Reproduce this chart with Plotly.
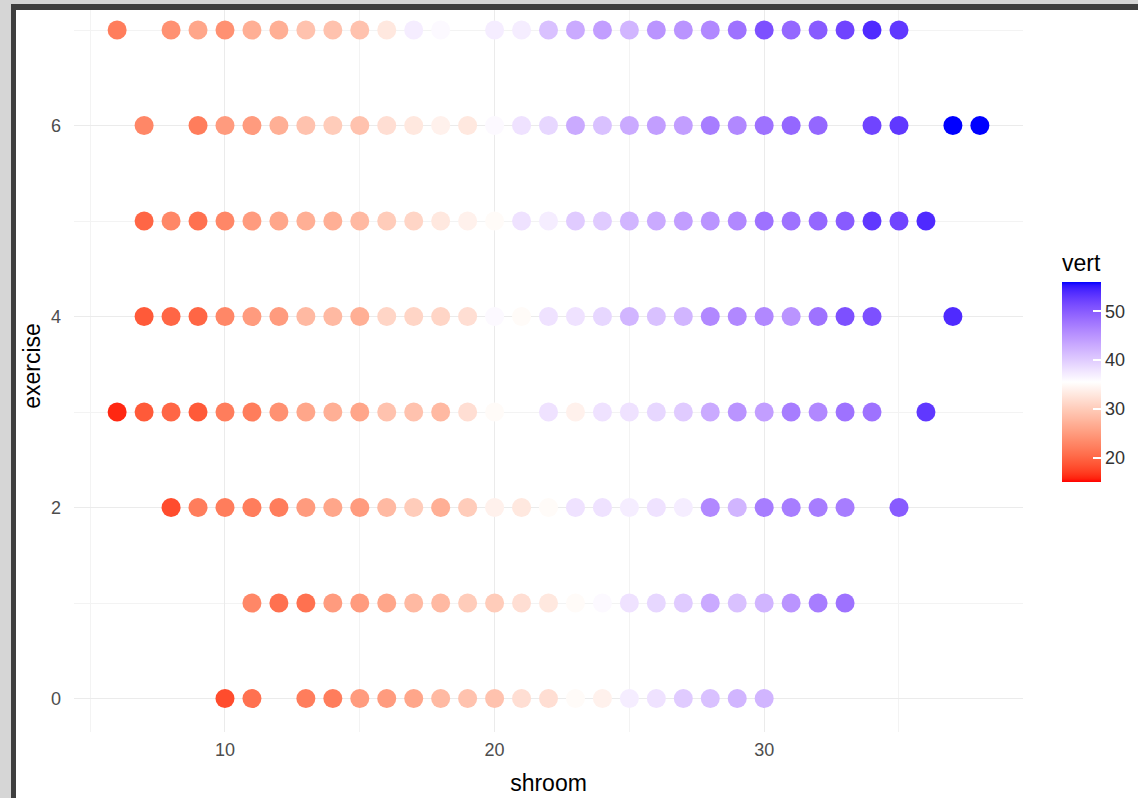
import plotly.graph_objects as go

# ---------------- data ----------------
shroom_e0 = [10, 11, 13, 14, 15, 16, 17, 18, 19, 20, 21, 22, 23, 24, 25, 26, 27, 28, 29, 30]
vert_e0 = [18, 21, 22, 22, 25, 25, 26, 28, 29, 29, 32, 32, 35, 34, 37, 38, 40, 41, 42, 42]

shroom_e1 = list(range(11, 34))
vert_e1 = [23, 21, 21, 25, 25, 26, 28, 28, 30, 30, 32, 33, 35, 36, 38, 39, 40, 43, 41, 42, 45, 47, 48]

shroom_e2 = list(range(8, 34)) + [35]
vert_e2 = [18, 22, 22, 22, 22, 25, 26, 25, 28, 30, 27, 30, 34, 33, 35, 38, 38, 37, 38, 37,
           46, 42, 47, 47, 47, 47, 50]

shroom_e3 = list(range(6, 21)) + list(range(22, 35)) + [36]
vert_e3 = [16, 19, 20, 19, 22, 22, 24, 26, 27, 26, 29, 29, 28, 32, 35,
           38, 34, 38, 38, 39, 40, 43, 45, 44, 47, 46, 48, 48, 53]

shroom_e4 = list(range(7, 35)) + [37]
vert_e4 = [19, 20, 20, 23, 25, 25, 28, 28, 27, 31, 31, 31, 32, 36, 35, 38, 38, 39, 42, 41,
           42, 46, 46, 46, 45, 48, 51, 51, 54]

shroom_e5 = list(range(7, 37))
vert_e5 = [20, 23, 21, 23, 25, 26, 27, 27, 28, 30, 31, 33, 34, 35, 38, 37, 40, 40, 42, 43,
           44, 45, 46, 48, 48, 49, 50, 53, 52, 54]

shroom_e6 = [7] + list(range(9, 33)) + [34, 35, 37, 38]
vert_e6 = [23, 22, 25, 25, 27, 29, 30, 29, 32, 33, 34, 33, 36, 38, 39, 43, 41, 43, 44, 44,
           47, 46, 48, 49, 49, 52, 53, 56, 56]

shroom_e7 = [6] + list(range(8, 19)) + list(range(20, 36))
vert_e7 = [22, 24, 26, 24, 27, 27, 29, 29, 29, 33, 37, 36, 37, 37, 41, 43, 44, 42, 45, 45,
           46, 48, 51, 49, 50, 52, 54, 53]

exercise_levels = [0, 1, 2, 3, 4, 5, 6, 7]
shroom_rows = [shroom_e0, shroom_e1, shroom_e2, shroom_e3, shroom_e4, shroom_e5, shroom_e6, shroom_e7]
vert_rows = [vert_e0, vert_e1, vert_e2, vert_e3, vert_e4, vert_e5, vert_e6, vert_e7]

x_ticks = [10, 20, 30]
y_ticks = [0, 2, 4, 6]
legend_ticks = [20, 30, 40, 50]
vert_min, vert_max, vert_mid = 15, 56, 35.5

# ---------------- colour scale: red - white - blue interpolated in Lab ----------------
def _lin(c):
    c = c / 255.0
    return c / 12.92 if c <= 0.04045 else ((c + 0.055) / 1.055) ** 2.4

def _gam(c):
    c = max(0.0, min(1.0, c))
    v = 12.92 * c if c <= 0.0031308 else 1.055 * c ** (1 / 2.4) - 0.055
    return int(round(max(0, min(1, v)) * 255))

WX, WY, WZ = 0.95047, 1.0, 1.08883

def rgb2lab(rgb):
    r, g, b = (_lin(v) for v in rgb)
    X = 0.4124 * r + 0.3576 * g + 0.1805 * b
    Y = 0.2126 * r + 0.7152 * g + 0.0722 * b
    Z = 0.0193 * r + 0.1192 * g + 0.9505 * b
    def f(t):
        return t ** (1 / 3) if t > 0.008856 else 7.787 * t + 16 / 116
    fx, fy, fz = f(X / WX), f(Y / WY), f(Z / WZ)
    return (116 * fy - 16, 500 * (fx - fy), 200 * (fy - fz))

def lab2rgb(lab):
    L, a, bb = lab
    fy = (L + 16) / 116
    fx = fy + a / 500
    fz = fy - bb / 200
    def finv(t):
        return t ** 3 if t ** 3 > 0.008856 else (t - 16 / 116) / 7.787
    X, Y, Z = WX * finv(fx), WY * finv(fy), WZ * finv(fz)
    r = 3.2406 * X - 1.5372 * Y - 0.4986 * Z
    g = -0.9689 * X + 1.8758 * Y + 0.0415 * Z
    b = 0.0557 * X - 0.2040 * Y + 1.0570 * Z
    return "rgb(%d,%d,%d)" % (_gam(r), _gam(g), _gam(b))

lab_low, lab_mid, lab_high = rgb2lab((255, 0, 0)), rgb2lab((255, 255, 255)), rgb2lab((0, 0, 255))
half = max(vert_mid - vert_min, vert_max - vert_mid)
colorscale = []
N = 60
for i in range(N + 1):
    t = i / N
    v = vert_min + t * (vert_max - vert_min)
    s = (v - vert_mid) / half
    if s < 0:
        a, b_, w = lab_mid, lab_low, -s
    else:
        a, b_, w = lab_mid, lab_high, s
    w = min(1.0, w)
    lab = tuple(a[k] + (b_[k] - a[k]) * w for k in range(3))
    colorscale.append([t, lab2rgb(lab)])

# ---------------- figure ----------------
xs, ys, cs = [], [], []
for lvl, sx, vv in zip(exercise_levels, shroom_rows, vert_rows):
    xs += sx
    ys += [lvl] * len(sx)
    cs += vv

W, H = 1138, 798
ML, MR, MT, MB = 74, 115, 0, 66
PW, PH = W - ML - MR, H - MT - MB

def px(x):
    return (x - ML) / PW

def py(y):
    return (H - MB - y) / PH

FONT = "Liberation Sans, Arial, Helvetica, sans-serif"
TICK_SIZE = 18
TITLE_SIZE = 23

fig = go.Figure()
fig.add_trace(go.Scatter(
    x=xs, y=ys, mode="markers",
    marker=dict(
        size=19, color=cs, colorscale=colorscale, cmin=vert_min, cmax=vert_max,
        line=dict(width=0),
        colorbar=dict(
            title=dict(text="vert", side="top", font=dict(size=TITLE_SIZE, color="#000000", family=FONT)),
            thickness=39, thicknessmode="pixels",
            len=231, lenmode="pixels",
            x=px(1062), xanchor="left", xpad=0,
            y=py(482), yanchor="bottom", ypad=0,
            tickvals=legend_ticks, ticks="inside", ticklen=8, tickwidth=1.5, tickcolor="white",
            tickfont=dict(size=TICK_SIZE, color="#333333", family=FONT),
            outlinewidth=0,
        ),
    ),
    showlegend=False, hoverinfo="x+y",
))

grid_major = "#EBEBEB"
grid_minor = "#F3F3F3"

fig.update_layout(
    width=W, height=H,
    margin=dict(l=ML, r=MR, t=MT, b=MB),
    paper_bgcolor="white", plot_bgcolor="white",
    font=dict(family=FONT),
    xaxis=dict(
        range=[4.4, 39.6], tickvals=x_ticks, showgrid=True, gridcolor=grid_major, gridwidth=1.4,
        zeroline=False, showline=False, ticks="",
        tickfont=dict(size=TICK_SIZE, color="#4D4D4D"), ticklabelstandoff=5,
        minor=dict(tickvals=[5, 15, 25, 35], showgrid=True, gridcolor=grid_minor, gridwidth=0.8),
        title=dict(text="shroom", font=dict(size=TITLE_SIZE, color="#000000"), standoff=15),
    ),
    yaxis=dict(
        range=[-0.35, -0.35 + PH / 95.5], tickvals=y_ticks, showgrid=True, gridcolor=grid_major,
        gridwidth=1.4, zeroline=False, showline=False, ticks="",
        tickfont=dict(size=TICK_SIZE, color="#4D4D4D"), ticklabelstandoff=12,
        minor=dict(tickvals=[1, 3, 5, 7], showgrid=True, gridcolor=grid_minor, gridwidth=0.8),
        title=dict(text="exercise", font=dict(size=TITLE_SIZE, color="#000000"), standoff=3),
    ),
)

# screenshot frame (light grey margin + dark border on the top and left)
frame = [
    (0, 0, W, 4, "#D6D6D6"),
    (0, 0, 11, H, "#D6D6D6"),
    (11, 4, W, 10, "#3F3F3F"),
    (11, 4, 16, H, "#3F3F3F"),
]
for x0, y0, x1, y1, col in frame:
    fig.add_shape(type="rect", xref="paper", yref="paper",
                  x0=px(x0), x1=px(x1), y0=py(y0), y1=py(y1),
                  fillcolor=col, line=dict(width=0), layer="above")

fig.write_html(
    "out.html",
    config={"displayModeBar": False},
    post_script="document.body.style.margin='0';document.body.style.overflow='hidden';",
)
